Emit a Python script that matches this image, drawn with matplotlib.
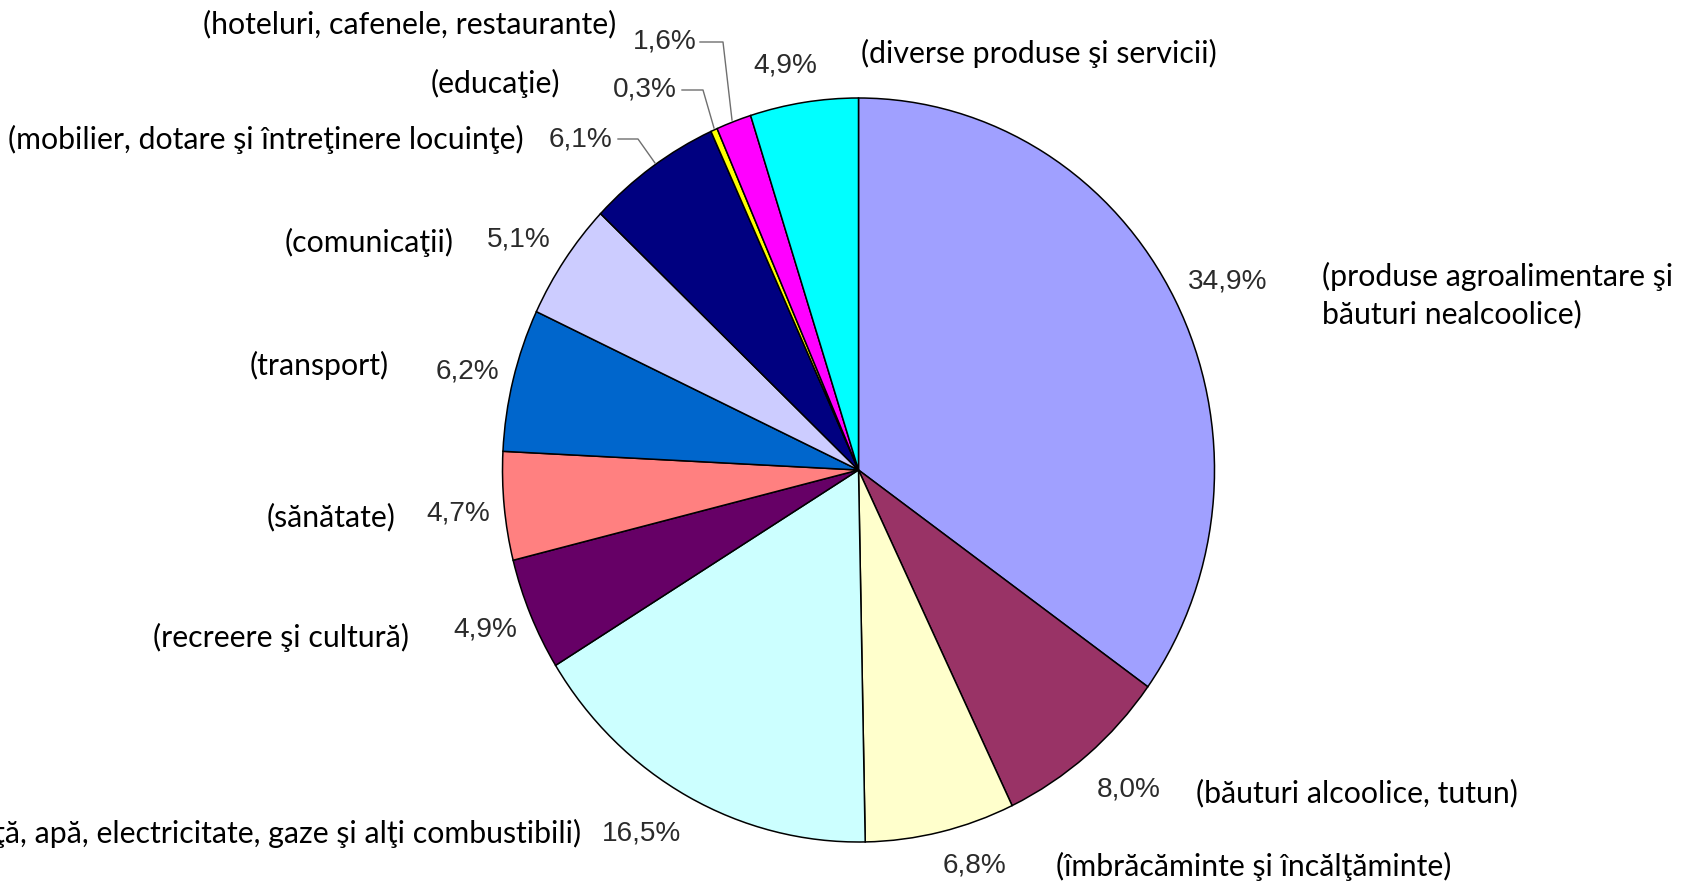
import matplotlib
matplotlib.use("Agg")
import matplotlib.pyplot as plt
from matplotlib.lines import Line2D

# ---- data -------------------------------------------------------------
categories = [
    "(produse agroalimentare şi\nbăuturi nealcoolice)",
    "(băuturi alcoolice, tutun)",
    "(îmbrăcăminte şi încălţăminte)",
    "(locuinţă, apă, electricitate, gaze şi alţi combustibili)",
    "(recreere şi cultură)",
    "(sănătate)",
    "(transport)",
    "(comunicaţii)",
    "(mobilier, dotare şi întreţinere locuinţe)",
    "(educaţie)",
    "(hoteluri, cafenele, restaurante)",
    "(diverse produse şi servicii)",
]
values = [34.9, 8.0, 6.8, 16.5, 4.9, 4.7, 6.2, 5.1, 6.1, 0.3, 1.6, 4.9]
colors = ["#A0A0FF", "#993366", "#FFFFCC", "#CCFFFF", "#660066", "#FF8080",
          "#0066CC", "#CCCCFF", "#000080", "#FFFF00", "#FF00FF", "#00FFFF"]

# ---- layout (pixels, from top-left) -------------------------------------
W, H = 1688, 883
cx, cy, rx, ry = 858.5, 470.0, 356.0, 372.0

# percent label centres
pct_pos = [(1228, 281), (1129, 789), (974, 866), (642, 834), (485, 630),
           (458, 514), (467, 372), (519, 239), (581, 139), (645, 90),
           (665, 41), (785, 66)]
# category label anchor (x, y, ha)
cat_pos = [(1322, 295, "left"), (1196, 793, "left"), (1056, 866, "left"),
           (581, 833, "right"), (409, 637, "right"), (396, 517, "right"),
           (389, 365, "right"), (454, 242, "right"), (524, 139, "right"),
           (560, 83, "right"), (616, 24, "right"), (861, 53, "left")]
# leader lines (index -> polyline in pixels)
leaders = {
    8: [(618, 139), (638, 139), (655, 163)],
    9: [(682, 90), (703, 90), (714, 128)],
    10: [(700, 42), (723, 42), (732, 120)],
}

fig = plt.figure(figsize=(W / 100, H / 100), dpi=100)
ax = fig.add_axes([0, 0, 1, 1])
ax.pie(values, colors=colors, startangle=90, counterclock=False, radius=1.0,
       wedgeprops=dict(edgecolor="black", linewidth=1.1))
ax.set_aspect("auto")
ax.set_xlim(-cx / rx, (W - cx) / rx)
ax.set_ylim(-(H - cy) / ry, cy / ry)
ax.axis("off")


def fx(x):
    return x / W


def fy(y):
    return 1 - y / H


for v, (x, y) in zip(values, pct_pos):
    fig.text(fx(x), fy(y), f"{v:.1f}%".replace(".", ","), ha="center",
             va="center", fontsize=20.2, color="#2b2b2b",
             family=["Liberation Sans", "DejaVu Sans"])

for c, (x, y, ha) in zip(categories, cat_pos):
    fig.text(fx(x), fy(y), c, ha=ha, va="center", fontsize=21.8, color="black",
             family=["Lato", "DejaVu Sans"], linespacing=1.38)

for idx, pts in leaders.items():
    xs = [fx(p[0]) for p in pts]
    ys = [fy(p[1]) for p in pts]
    fig.add_artist(Line2D(xs, ys, color="#6f6f6f", lw=1.0,
                          transform=fig.transFigure))

fig.savefig("out.png", dpi=100, facecolor="white")
